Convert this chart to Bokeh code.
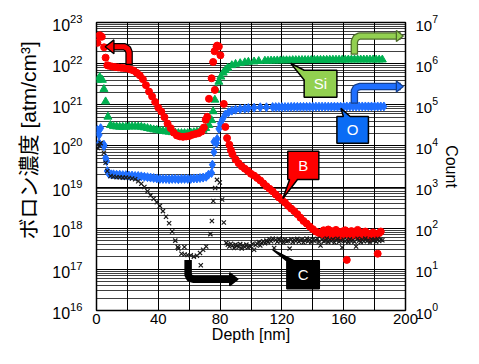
from bokeh.plotting import figure
from bokeh.models import Range1d, LogScale, LogAxis, FixedTicker
from bokeh.core.properties import value
from bokeh.embed import file_html
from bokeh.resources import INLINE

FONT = "Liberation Sans"

# ---------------- data (depth in nm, concentration in atm/cm3) ----------------
b_depth = ([0.6, 2.1, 3.4, 0.6, 4.9, 5.9, 7.0] + list(range(8, 69, 2)) +
           [69.5, 70.7, 71.7, 72.8, 74.5, 75.5, 76.4, 76.6, 77.7, 78.1, 79.2, 80.2,
            82.4, 83.4, 84.5, 86, 87] + list(range(88, 147, 2)) + list(range(147, 185)))
b_conc = [4.6e22, 4.9e22, 4.5e22, 3.2e22, 2.5e22, 1.4e22, 9.1e21,
          8.9e21, 8.5e21, 8.3e21, 8.1e21, 7.9e21, 7.8e21, 7.6e21, 7.2e21, 6.8e21, 6.0e21,
          5.2e21, 4.2e21, 3.0e21, 2.1e21, 1.6e21, 1.17e21, 8.5e20, 6.8e20, 5.0e20, 3.5e20,
          2.7e20, 2.1e20, 1.8e20, 1.7e20, 1.66e20, 1.7e20, 1.74e20, 1.86e20, 1.95e20, 2.04e20,
          2.24e20,
          2.8e20, 4.3e20, 5.1e20, 1.4e21, 4.4e21, 1.1e22, 2.0e22, 2.3e21, 2.6e22, 2.75e22,
          2.6e22, 1.6e22, 1.05e21, 2.9e20, 1.55e20, 1.07e20, 7.9e19,
          6.3e19, 4.7e19, 3.8e19, 3.2e19, 2.8e19, 2.45e19, 2.1e19, 1.9e19, 1.66e19, 1.45e19,
          1.23e19, 1.05e19, 9.1e18, 7.9e18, 6.6e18, 5.6e18, 4.9e18, 4.2e18, 3.5e18, 3.0e18,
          2.6e18, 2.2e18, 1.8e18, 1.5e18, 1.3e18, 1.1e18, 9.5e17, 8.3e17, 7.6e17, 7.2e17,
          8.9e17, 6.6e17, 7.9e17, 9.3e17, 6.9e17, 8.5e17, 6.3e17, 7.6e17, 9.1e17, 6.8e17,
          7.9e17, 6.0e17, 8.3e17, 7.2e17, 8.9e17, 1.7e17, 7.4e17, 6.3e17, 8.5e17, 6.9e17,
          7.9e17, 6.6e17, 9.1e17, 7.1e17, 6.0e17, 7.9e17, 6.8e17, 8.3e17, 6.3e17, 7.4e17,
          5.8e17, 7.1e17, 7.9e17, 6.3e17, 6.9e17, 2.4e17, 7.6e17, 8.3e17]

si_depth = ([0.6, 2.1, 3.8, 4.8, 5.9, 7.4, 9] + list(range(11, 70, 2)) +
            [70.7, 72.8, 74.5, 75.5, 76.6, 77.4, 79.2, 80.5, 82, 83.4, 85, 87.6, 90, 93, 96,
             98.3, 102, 105] + list(range(109, 186, 2)))
si_conc = [4.0e21, 4.7e21, 4.0e21, 2.4e21, 1.2e21, 5.1e20, 3.2e20,
           3.0e20, 2.95e20, 2.9e20, 2.9e20, 2.9e20, 2.95e20, 2.95e20, 2.95e20, 2.95e20, 2.9e20,
           2.8e20, 2.7e20, 2.6e20, 2.5e20, 2.45e20, 2.35e20, 2.3e20, 2.24e20, 2.2e20, 2.14e20,
           2.1e20, 2.04e20, 2.04e20, 2.04e20, 2.04e20, 2.1e20, 2.14e20, 2.2e20, 2.3e20, 2.45e20,
           2.7e20, 3.2e20, 4.2e20, 6.9e20, 1.32e21, 2.3e21, 3.6e21, 4.8e21, 6.0e21, 6.9e21,
           7.9e21, 9.1e21, 9.8e21, 1.02e22, 1.07e22, 1.1e22, 1.12e22, 1.15e22,
           1.17e22, 1.17e22, 1.18e22, 1.18e22, 1.19e22, 1.19e22, 1.2e22, 1.2e22, 1.2e22,
           1.21e22, 1.21e22, 1.21e22, 1.22e22, 1.22e22, 1.22e22, 1.22e22, 1.23e22, 1.23e22,
           1.23e22, 1.23e22, 1.23e22, 1.24e22, 1.24e22, 1.24e22, 1.24e22, 1.24e22, 1.24e22,
           1.25e22, 1.25e22, 1.25e22, 1.25e22, 1.25e22, 1.25e22, 1.25e22, 1.25e22, 1.25e22,
           1.25e22, 1.25e22, 1.25e22]

o_depth = ([0.6, 1.7, 2.7, 1.7, 4.8, 4.8, 5.9, 6.5, 7.0, 8.0, 9.5] + list(range(11, 72, 2)) +
           [72.5, 74.5, 75, 76, 76, 77.7, 78.1, 79.2, 80.2, 81.5, 83.4, 85.5, 87.6, 90, 93, 96,
            98.3, 102, 106, 110] + list(range(114, 187, 2)))
o_conc = [2.45e20, 1.86e20, 2.7e20, 1.17e20, 1.07e20, 9.8e19, 5.1e19, 4.3e19, 2.45e19, 2.1e19,
          2.04e19,
          2.04e19, 2.0e19, 2.0e19, 1.95e19, 1.95e19, 1.9e19, 1.9e19, 1.86e19, 1.86e19, 1.82e19,
          1.78e19, 1.74e19, 1.7e19, 1.66e19, 1.62e19, 1.58e19, 1.58e19, 1.58e19, 1.55e19, 1.58e19,
          1.58e19, 1.55e19, 1.58e19, 1.58e19, 1.58e19, 1.58e19, 1.62e19, 1.62e19, 1.66e19, 1.7e19,
          1.78e19,
          2.0e19, 2.2e19, 3.5e19, 7.1e19, 1.26e20, 1.17e20, 1.48e20, 2.6e20, 3.5e20, 4.4e20,
          5.8e20, 6.6e20, 7.2e20, 7.6e20, 7.9e20, 8.1e20, 8.3e20, 8.5e20, 8.7e20, 8.7e20,
          8.8e20, 8.8e20, 8.8e20, 8.8e20, 8.8e20, 8.8e20, 8.9e20, 8.9e20, 8.9e20, 8.9e20,
          8.9e20, 8.9e20, 8.9e20, 8.9e20, 9.0e20, 9.0e20, 9.0e20, 9.0e20, 9.0e20, 9.0e20,
          9.0e20, 9.0e20, 9.0e20, 9.0e20, 9.1e20, 9.1e20, 9.1e20, 9.1e20, 9.1e20, 9.1e20,
          9.1e20, 9.1e20, 9.1e20, 9.1e20, 9.1e20, 9.1e20, 9.1e20]

c_depth = ([0.6, 1.0, 2.0, 2.7, 4.8, 5.9, 7.0, 9.1] + list(range(11, 72, 2)) +
           [52.6, 56.9, 67.5, 73.7, 74.7, 75.6, 76.8, 78.0, 79.8, 81.3, 82.4] +
           list(range(84, 186)))
c_conc = [1.07e20, 8.9e19, 1.0e20, 1.17e20, 6.8e19, 3.9e19, 2.45e19, 1.86e19,
          1.78e19, 1.74e19, 1.74e19, 1.7e19, 1.7e19, 1.66e19, 1.62e19, 1.55e19, 1.38e19, 1.2e19,
          1.0e19, 7.9e18, 6.3e18, 5.2e18, 4.3e18, 3.5e18, 2.6e18, 1.9e18, 1.32e18, 8.3e17,
          5.0e17, 3.2e17, 2.4e17, 2.3e17, 2.24e17, 2.2e17, 2.04e17, 2.14e17, 2.5e17, 3.0e17,
          3.6e17,
          3.5e17, 3.5e17, 1.26e17, 7.2e17, 1.5e18, 4.6e18, 9.5e18, 1.5e19, 1.29e19, 5.0e18, 1.38e18,
          4.4e17, 4.0e17, 3.6e17, 4.2e17, 3.8e17, 3.3e17, 4.0e17, 3.7e17, 3.5e17, 4.1e17,
          3.2e17, 3.8e17, 3.5e17, 4.0e17, 3.4e17, 3.7e17, 3.6e17, 4.2e17, 3.0e17, 3.9e17,
          4.2e17, 4.6e17, 3.8e17, 4.4e17, 4.8e17, 4.3e17,
          5.0e17, 4.6e17, 5.4e17, 4.8e17, 5.6e17, 3.3e17, 5.2e17, 4.7e17, 5.5e17, 4.9e17,
          5.1e17, 4.5e17, 5.3e17, 4.8e17, 5.0e17, 3.2e17, 5.4e17, 4.6e17, 5.2e17, 4.9e17,
          5.5e17, 4.7e17, 5.1e17, 5.3e17, 4.5e17, 5.0e17, 5.6e17, 4.8e17, 5.2e17, 4.6e17,
          5.4e17, 4.9e17, 5.1e17, 5.5e17, 4.7e17, 3.8e17, 5.3e17, 4.8e17, 5.0e17, 5.6e17,
          4.6e17, 5.2e17, 4.9e17, 5.4e17, 4.5e17, 5.1e17, 5.5e17, 4.7e17, 5.0e17, 3.4e17,
          5.3e17, 4.8e17, 5.2e17, 4.6e17, 5.4e17, 4.9e17, 5.1e17, 4.7e17, 3.6e17, 5.5e17,
          5.0e17, 4.6e17, 5.3e17, 4.8e17, 5.6e17, 4.9e17, 5.1e17, 4.5e17, 5.4e17, 5.0e17,
          5.2e17, 4.7e17, 5.5e17, 4.9e17, 5.3e17, 5.1e17]

assert len(b_depth) == len(b_conc), (len(b_depth), len(b_conc))
assert len(si_depth) == len(si_conc), (len(si_depth), len(si_conc))
assert len(o_depth) == len(o_conc), (len(o_depth), len(o_conc))
assert len(c_depth) == len(c_conc), (len(c_depth), len(c_conc))

x_ticks = [0, 40, 80, 120, 160, 200]
left_decades = [1e16, 1e17, 1e18, 1e19, 1e20, 1e21, 1e22, 1e23]
right_decades = [1, 1e1, 1e2, 1e3, 1e4, 1e5, 1e6, 1e7]

# ---------------- figure ----------------
p = figure(width=463, height=348, x_range=Range1d(0, 200), y_range=Range1d(1e16, 1e23),
           y_axis_type="log", output_backend="svg", toolbar_location=None,
           min_border_left=96, min_border_right=53, min_border_top=22, min_border_bottom=38)
p.extra_y_ranges = {"count": Range1d(1, 1e7)}
p.extra_y_scales = {"count": LogScale()}
p.outline_line_color = "black"
p.outline_line_width = 1.5
p.background_fill_color = "white"
p.border_fill_color = "white"

right_axis = LogAxis(y_range_name="count")
p.add_layout(right_axis, "right")

xa = p.xaxis[0]
ya = p.yaxis[0]
xa.ticker = FixedTicker(ticks=x_ticks)
ya.ticker = FixedTicker(ticks=left_decades)
right_axis.ticker = FixedTicker(ticks=right_decades)

for ax in (xa, ya, right_axis):
    ax.axis_line_color = None
    ax.major_tick_line_color = None
    ax.minor_tick_line_color = None
    ax.major_tick_out = 0
    ax.major_tick_in = 0
    ax.minor_tick_out = 0
    ax.minor_tick_in = 0
    ax.major_label_text_font = FONT
    ax.major_label_text_color = "black"
    ax.axis_label_text_font_style = "normal"
    ax.axis_label_text_color = "black"

xa.major_label_text_font_size = "15px"
xa.major_label_standoff = 3
xa.axis_label = "Depth [nm]"
xa.axis_label_text_font = FONT
xa.axis_label_text_font_size = "16px"
xa.axis_label_standoff = -1

ya.major_label_text_font_size = "16px"
ya.major_label_standoff = 14
# leading ideographic spaces lift the visible title, as in the original
ya.axis_label = "\u3000\u3000\u2002ボロン濃度 [atm/cm³]"
ya.axis_label_text_font = "Liberation Sans, Noto Sans CJK JP"
ya.axis_label_text_font_size = "21px"
ya.axis_label_standoff = 9

right_axis.major_label_text_font_size = "15px"
right_axis.major_label_standoff = 10
right_axis.axis_label = "Count"
right_axis.axis_label_text_font = FONT
right_axis.axis_label_text_font_size = "16px"
right_axis.axis_label_standoff = 2

p.xgrid.ticker = FixedTicker(ticks=list(range(0, 201, 20)))
p.xgrid.grid_line_color = "black"
p.xgrid.grid_line_width = 1
minor = [m * 10.0 ** e for e in range(16, 23) for m in range(2, 10)]
p.ygrid.ticker = FixedTicker(ticks=left_decades, minor_ticks=minor)
p.ygrid.grid_line_color = "black"
p.ygrid.grid_line_width = 1.2
p.ygrid.minor_grid_line_color = "black"
p.ygrid.minor_grid_line_alpha = 0.75
p.ygrid.minor_grid_line_width = 1

# ---------------- series ----------------
p.scatter(si_depth, si_conc, marker="triangle", size=8, color="#00b050")
p.scatter(o_depth, o_conc, marker="diamond", size=9, color="#1f6fff")
p.scatter(b_depth, b_conc, marker="circle", size=7, color="#ff0000")
p.scatter(c_depth, c_conc, marker="x", size=6, line_color="#1a1a1a", line_width=1.2)

# ---------------- callouts ----------------
call_xs = [[134.4, 155.6, 155.6, 134.4, 134.4, 125.7],
           [155.6, 159.8, 158.2, 164.2, 176.0, 176.0, 155.6],
           [123.8, 143.9, 143.9, 130.1, 120.6, 125.0, 123.8],
           [123.2, 114.2, 128.0, 144.2, 144.2, 123.2]]
call_ys = [[6.9e21, 6.9e21, 1.52e21, 1.52e21, 4.0e21, 1.02e22],
           [5.18e20, 5.18e20, 8.2e20, 5.18e20, 5.18e20, 1.16e20, 1.16e20],
           [7.4e19, 7.4e19, 1.53e19, 1.53e19, 5.25e18, 1.53e19, 1.53e19],
           [1.61e17, 2.97e17, 1.61e17, 1.61e17, 3.4e16, 3.4e16]]
p.patches(call_xs, call_ys, fill_color=["#92d050", "#0a6cf5", "#ff0000", "#000000"],
          line_color="black", line_width=1.5)
p.text(x=[145.0, 165.8, 133.9, 133.7], y=[3.24e21, 2.45e20, 3.38e19, 7.4e16],
       text=["Si", "O", "B", "C"], text_color="white", text_font=value(FONT),
       text_font_size="15px", text_align="center", text_baseline="middle")

# ---------------- bent arrows ----------------
arrows = [
    ([21.1, 21.1, 20.25, 18.3, 11.0], [1.15e22, 1.89e22, 2.29e22, 2.56e22, 2.56e22],
     [5.6, 11.3, 11.3], [2.56e22, 3.78e22, 1.74e22], "#ff0000", "black"),
    ([59.3, 59.3, 60.4, 62.6, 86.2], [1.37e17, 7.4e16, 6.1e16, 5.77e16, 5.77e16],
     [91.6, 86.2, 86.2], [5.77e16, 8.26e16, 4.02e16], "black", "black"),
    ([166.9, 166.9, 168.0, 170.3, 194.5], [2.03e22, 3.47e22, 4.27e22, 4.72e22, 4.72e22],
     [198.6, 194.1, 194.1], [4.72e22, 6.41e22, 3.47e22], "#92d050", "#4d6b2a"),
    ([166.9, 166.9, 168.0, 170.3, 194.5], [1.31e21, 2.16e21, 2.59e21, 2.77e21, 2.77e21],
     [198.6, 194.1, 194.1], [2.77e21, 3.77e21, 2.04e21], "#1f6fff", "#123f8f"),
]
for sx, sy, hx, hy, fill, edge in arrows:
    p.line(sx, sy, line_color=edge, line_width=7.5, line_join="round", line_cap="square")
    p.line(sx, sy, line_color=fill, line_width=5, line_join="round", line_cap="square")
    p.patch(hx, hy, fill_color=fill, line_color=edge, line_width=1.3)

open("out.html", "w", encoding="utf-8").write(file_html(p, INLINE))
